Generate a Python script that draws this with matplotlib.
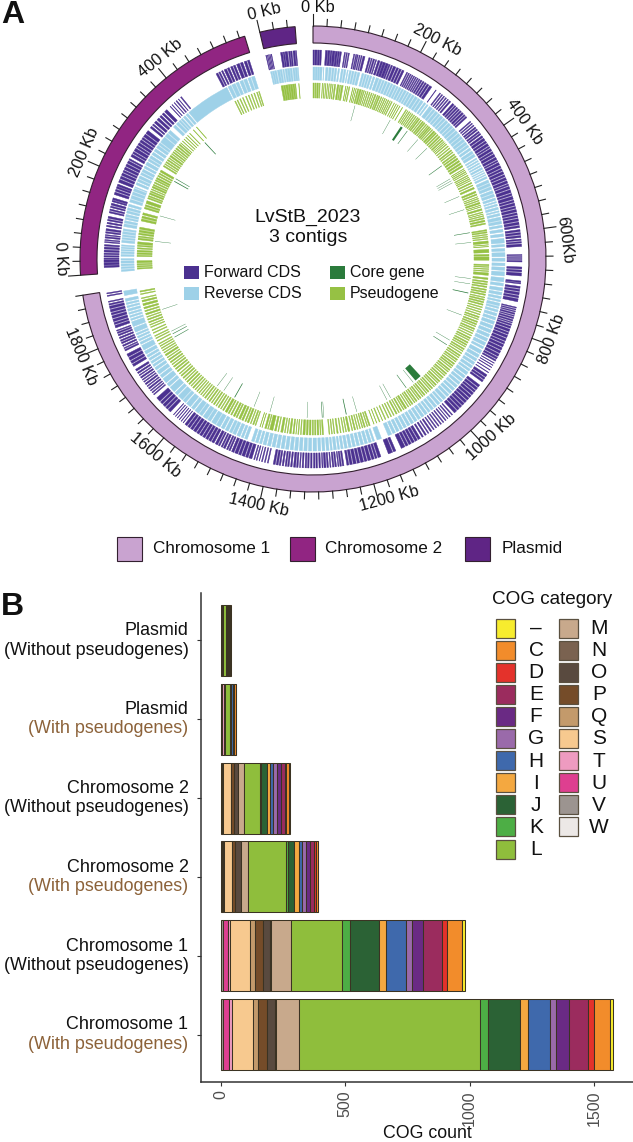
import numpy as np
from matplotlib import pyplot as plt
from matplotlib.patches import Rectangle

plt.rcParams['font.family'] = ['Liberation Sans', 'DejaVu Sans']

# contig layout on the circle (degrees clockwise from top) and length in Kb
contigs = ['Chromosome 1', 'Chromosome 2', 'Plasmid']
contig_start = [0.0, 266.0, 346.8]
contig_len = [1900, 560, 64]
contig_col = ['#C9A3D0', '#912582', '#5F2585']
deg_per_kb = 0.1374

# gene blocks, flat start,end pairs in Kb
fwd1 = [0,3, 4,8, 9,13, 14,17, 25,29, 30,34, 35,38, 39,44, 45,49, 50,53, 54,57, 63,65, 67,69, 71,73,
        82,84, 86,88, 89,91, 93,95, 97,99, 101,105, 113,116, 118,120, 122,125, 127,129, 132,136,
        138,142, 143,148, 149,154, 155,158, 160,163, 165,170, 172,176, 178,182, 184,188,
        194,196, 198,200, 202,204, 206,208, 210,212, 214,216, 218,220, 222,224, 226,229, 231,234, 236,239, 241,245, 247,252,
        262,263, 272,274, 277,279, 282,284, 287,289, 292,294, 297,300, 305,309, 311,314, 316,319, 321,324, 326,329, 331,335, 337,340, 342,345,
        355,357, 360,362, 365,367, 370,373, 375,378, 381,384, 386,389, 392,396, 398,403, 405,409, 411,416, 418,421, 423,428, 430,434,
        436,441, 443,448, 450,453, 455,460, 462,467, 469,473, 475,480, 482,486, 488,493, 495,500, 502,505, 507,512, 514,520, 522,526,
        528,534, 536,540, 542,547, 549,553, 555,560, 562,566, 568,572, 574,579, 581,586, 588,592, 596,600, 602,606, 608,612,
        615,618, 620,623, 625,630, 646,648, 650,652, 654,656, 658,661, 671,675, 677,681, 683,689, 699,702, 703,705,
        710,714, 716,720, 722,727, 729,733, 735,741, 752,754, 756,758, 760,762, 764,767, 769,771, 773,776, 778,781, 783,785, 787,790, 792,796,
        798,803, 805,809, 811,816, 818,823, 825,829, 831,836, 838,843, 845,850, 852,857, 859,863, 865,868, 872,873, 877,878, 882,883, 888,889, 894,895,
        900,905, 907,911, 913,917, 925,930, 932,937, 939,943, 945,950, 952,957, 959,964, 966,971, 973,978, 980,985, 987,992, 994,1000,
        1005,1007, 1011,1013, 1017,1018, 1022,1024, 1028,1030, 1034,1036, 1040,1042, 1046,1048, 1052,1054, 1058,1061, 1065,1067, 1071,1074, 1078,1081,
        1085,1090, 1092,1097, 1099,1104, 1106,1111, 1113,1118, 1120,1128, 1140,1145, 1147,1156, 1172,1178, 1180,1184, 1186,1191, 1193,1199, 1201,1206, 1208,1214, 1216,1221, 1223,1229, 1231,1236, 1238,1242,
        1248,1251, 1253,1256, 1258,1260, 1263,1266, 1268,1271, 1274,1276, 1279,1282, 1284,1288, 1290,1292, 1295,1298, 1301,1304, 1306,1309, 1312,1315, 1318,1321, 1323,1326, 1329,1332, 1335,1337, 1340,1343, 1345,1349, 1352,1355, 1358,1361, 1363,1366, 1369,1372, 1375,1378, 1380,1384, 1386,1390,
        1400,1402, 1406,1408, 1412,1414, 1418,1419, 1423,1425, 1428,1430, 1434,1440, 1442,1447, 1449,1455, 1457,1462, 1464,1470, 1472,1477,
        1480,1483, 1485,1488, 1491,1495, 1497,1500, 1503,1506, 1508,1513, 1516,1521, 1523,1528, 1530,1535, 1537,1542, 1544,1549, 1551,1556, 1558,1564, 1566,1571, 1573,1578, 1580,1585,
        1589,1590, 1594,1595, 1599,1600, 1604,1605, 1609,1610, 1614,1615, 1623,1629, 1631,1636, 1638,1644, 1646,1651, 1653,1662,
        1670,1672, 1675,1677, 1680,1682, 1685,1688, 1691,1693, 1696,1699, 1702,1704, 1707,1709, 1712,1715, 1718,1720, 1723,1726, 1729,1733, 1740,1745, 1747,1752, 1754,1760, 1762,1768,
        1775,1778, 1780,1782, 1785,1788, 1791,1794, 1796,1799, 1802,1805, 1808,1811, 1813,1816, 1818,1820, 1825,1830, 1832,1836, 1838,1843, 1845,1850, 1852,1856, 1858,1863, 1865,1870, 1872,1875, 1878,1880, 1890,1892, 1895,1897]
rev1 = [0,4, 5,9, 10,14, 15,20, 23,24, 28,33, 35,40, 42,46, 48,52, 55,58, 62,66, 68,72, 75,77, 80,84, 86,90, 92,96, 98,103,
        108,112, 114,118, 120,124, 126,130, 133,137, 140,146, 148,153, 155,159, 161,166, 168,173, 175,179, 181,186,
        188,192, 194,199, 201,205, 207,212, 214,218, 220,225, 227,232, 234,240, 242,247, 249,255, 258,262, 265,268, 272,280,
        282,287, 289,295, 297,302, 304,310, 312,317, 319,325, 327,333, 335,340, 342,348, 350,356, 358,364, 366,372, 374,380,
        382,388, 390,395, 398,403, 406,412, 414,420, 424,427, 430,433, 436,439, 442,445, 448,452, 455,457, 460,462, 465,467, 470,474,
        478,484, 486,492, 494,500, 503,509, 511,517, 520,525, 528,531, 534,538, 541,546, 549,552, 555,560, 563,570, 572,578, 581,586, 590,596,
        600,606, 610,620, 623,628, 632,638, 641,650, 653,660, 664,670, 673,680, 683,692, 696,705, 708,714, 718,725, 728,734, 737,742, 745,749,
        752,758, 760,764, 767,772, 775,781, 784,790, 793,800, 803,810, 813,820, 823,830, 833,840, 843,850, 853,858, 862,870, 873,880, 883,889,
        892,898, 901,907, 910,915, 918,925, 928,934, 937,943, 946,952, 955,961, 964,970, 973,979, 982,988, 991,998, 1001,1006, 1009,1015, 1018,1024,
        1027,1033, 1036,1041, 1044,1050, 1053,1059, 1062,1068, 1071,1077, 1080,1086, 1089,1095, 1098,1104, 1107,1113, 1116,1122, 1125,1131, 1134,1142,
        1158,1168, 1174,1178, 1181,1187, 1190,1196, 1199,1205, 1208,1214, 1217,1223, 1226,1232, 1235,1241, 1244,1249, 1252,1256, 1259,1265, 1268,1272,
        1275,1281, 1284,1290, 1293,1299, 1302,1310, 1313,1320, 1323,1330, 1333,1340, 1343,1350, 1353,1360, 1363,1370, 1373,1380, 1383,1390, 1393,1400,
        1403,1410, 1413,1420, 1423,1428, 1431,1437, 1440,1446, 1456,1462, 1465,1470, 1473,1480, 1483,1490, 1492,1498, 1501,1508, 1511,1518, 1521,1530,
        1532,1542, 1545,1552, 1554,1564, 1567,1574, 1576,1586, 1589,1596, 1599,1610, 1613,1620, 1622,1634, 1637,1644, 1647,1660, 1663,1670, 1673,1684,
        1687,1694, 1697,1705, 1708,1714, 1717,1722, 1725,1730, 1733,1738, 1741,1746, 1749,1756, 1759,1770, 1773,1778, 1781,1785, 1788,1792, 1795,1799,
        1802,1812, 1815,1826, 1829,1833, 1836,1840, 1843,1847, 1850,1855, 1858,1862, 1865,1869, 1872,1878, 1885,1895]
pse1 = [0,3, 5,7, 9,13, 15,17, 22,23, 26,27, 30,31, 34,35, 38,39, 42,44, 47,48, 51,54, 58,62, 64,66, 68,72, 78,79, 82,83, 86,88,
        95,96, 99,100, 103,104, 107,110, 112,116, 118,120, 122,124, 127,128, 131,133, 136,138, 141,143, 146,147, 150,153, 156,158, 160,163, 166,168,
        171,172, 175,177, 180,181, 184,186, 189,190, 193,195, 200,201, 205,206, 210,211, 215,216, 222,223, 232,234, 237,238, 241,243, 246,247, 250,252,
        255,257, 260,262, 265,267, 269,272, 275,277, 280,283, 285,288, 291,293, 296,298, 300,303, 305,307, 310,312, 315,319, 321,324, 327,330, 333,336, 339,341, 344,347,
        350,351, 354,355, 358,360, 364,366, 370,372, 376,379, 382,384, 388,391, 394,397, 400,404, 407,411, 414,418, 421,425, 430,431, 434,435, 438,440, 443,444,
        448,450, 453,454, 457,459, 462,463, 467,470, 474,476, 480,484, 490,494, 497,500, 504,505, 508,510, 513,515, 518,522, 525,526, 529,530, 534,538,
        542,544, 547,548, 551,553, 556,559, 562,566, 569,572, 585,588, 590,593, 596,598, 601,603, 606,608, 612,618, 621,622, 625,626, 632,640,
        644,648, 650,658, 668,671, 673,675, 678,680, 683,685, 688,694, 700,704, 708,711, 714,717, 720,723, 727,730, 733,736, 739,742, 746,748, 751,754,
        757,760, 763,766, 770,772, 776,778, 782,784, 788,790, 794,797, 800,802, 806,809, 812,815, 818,820, 824,827, 830,832, 836,838, 842,844, 848,851,
        854,856, 860,863, 866,869, 872,874, 878,881, 884,886, 890,892, 896,899, 902,904, 908,911, 914,916, 920,923, 926,929, 932,934, 938,941, 944,946,
        950,953, 956,958, 962,965, 968,970, 974,977, 980,982, 986,989, 992,994, 998,1001, 1004,1006, 1010,1013, 1016,1018, 1022,1025, 1028,1030, 1034,1037,
        1040,1042, 1046,1049, 1052,1054, 1058,1061, 1064,1066, 1070,1072, 1076,1080, 1083,1085, 1089,1092, 1096,1098, 1102,1105, 1110,1112, 1117,1119, 1124,1126, 1132,1134, 1140,1141, 1147,1149,
        1155,1156, 1162,1163, 1172,1175, 1178,1180, 1184,1187, 1190,1192, 1196,1198, 1202,1204, 1208,1211, 1215,1217, 1222,1226, 1230,1232, 1236,1238, 1243,1245, 1250,1253, 1258,1260,
        1264,1266, 1270,1272, 1285,1288, 1291,1293, 1296,1300, 1303,1306, 1309,1312, 1315,1319, 1322,1326, 1329,1334, 1338,1340, 1344,1346, 1350,1351, 1355,1358, 1362,1366, 1370,1372, 1376,1378, 1382,1387, 1392,1394, 1398,1402, 1406,1414, 1417,1419,
        1422,1426, 1432,1433, 1437,1438, 1448,1450, 1453,1456, 1460,1462, 1466,1470, 1473,1476, 1480,1484, 1487,1492, 1496,1499, 1502,1506, 1510,1513, 1517,1520, 1523,1528, 1532,1535, 1539,1541, 1545,1548, 1552,1554,
        1558,1561, 1565,1567, 1571,1574, 1578,1580, 1584,1587, 1591,1593, 1597,1599, 1603,1605, 1609,1611, 1615,1617, 1621,1624, 1628,1630, 1634,1637, 1641,1644, 1648,1650, 1654,1657, 1661,1664, 1668,1670, 1675,1678,
        1682,1685, 1689,1692, 1696,1698, 1702,1705, 1709,1712, 1716,1718, 1722,1726, 1730,1732, 1736,1738, 1742,1744, 1748,1750, 1754,1756, 1762,1764, 1769,1771, 1775,1777, 1783,1785, 1790,1792, 1798,1800,
        1804,1806, 1810,1813, 1817,1820, 1824,1826, 1830,1834, 1838,1841, 1845,1849, 1853,1858, 1862,1866, 1870,1872, 1880,1882, 1886,1889]
core1 = [111,1, 211,1, 244,6, 264,1.5, 300,1, 333,1, 393,1.5, 434,1, 440,1, 446,1, 486,1, 523,1, 585,1.5, 611,1, 706,1, 720,1, 744,2,
         805,1, 878,1, 892,1.5, 1000,18, 1025,1, 1048,1.5, 1097,1, 1108,1, 1193,1, 1221,2, 1281,1, 1285,1.5, 1325,1, 1424,1, 1468,1, 1524,2,
         1558,1, 1579,1, 1750,1.5, 1760,1.5, 1768,1, 1830,1]

fwd2 = [12,16, 17,22, 23,28, 29,31, 33,36, 38,41, 43,47, 49,53, 55,58, 62,64, 66,68, 71,74, 76,78, 81,84, 86,90, 94,97, 100,103, 106,109, 111,115,
        122,125, 127,130, 133,136, 138,142, 145,148, 149,153, 160,165, 167,171, 173,177, 178,182, 186,192, 194,199, 201,206, 208,212, 214,219, 221,226, 228,233, 235,238,
        243,248, 250,254, 256,262, 264,268, 270,275, 277,282, 284,288, 290,296, 298,305, 312,316, 319,322, 325,330, 333,338, 341,345, 348,352, 355,361,
        370,371, 375,376, 381,382, 386,388, 392,393, 398,400,
        483,487, 489,492, 495,498, 501,506, 508,512, 515,519, 521,525, 528,534, 536,541, 544,549, 551,555]
rev2 = [2,6, 8,12, 14,18, 20,25, 27,30, 35,39, 41,45, 47,50, 52,55, 57,60, 65,70, 72,76, 78,82, 84,89, 91,95, 100,106, 108,113, 116,120, 122,127, 130,135, 137,142, 145,150,
        155,161, 163,170, 172,178, 180,186, 188,190, 195,200, 203,208, 210,216, 219,224, 226,232, 235,240, 243,250, 253,258, 260,266, 269,275, 278,284, 287,293, 295,300,
        302,316, 318,326, 328,335, 345,351, 354,360, 362,366, 368,372, 375,380, 383,388, 391,490, 493,500, 502,510, 512,518, 521,528, 530,537, 540,546, 548,555]
pse2 = [5,8, 10,13, 15,18, 20,25, 35,38, 40,44, 46,50, 53,56, 59,62, 64,70, 75,79, 81,84, 87,91, 93,98, 100,105, 120,125, 127,132, 135,140, 150,154, 156,160, 163,170,
        175,178, 180,183, 186,190, 192,195, 198,200, 203,207, 209,212, 215,218, 221,224, 226,230, 233,236, 239,242, 245,250,
        260,263, 266,268, 271,274, 277,280, 283,285, 288,292, 295,297, 300,303, 306,308, 311,314, 317,320, 323,326, 329,330, 335,336, 341,342, 347,348, 353,354, 360,361, 372,373, 382,383,
        492,494, 498,500, 505,507, 512,514, 520,522, 527,529, 534,536, 541,543, 548,550, 553,555]
core2 = [75,1, 143,1, 241,2, 249,1.5, 371,2]

fwd3 = [1,2.5, 4,5, 6.5,7.5, 9,10, 11.5,13, 31,35, 36,39, 40,45, 47,50, 51,54, 56,60, 61,63]
rev3 = [3,6, 7,11, 12,16, 18,23, 24,28, 30,33, 35,39, 40,45, 46,50, 52,56, 57,61, 62,64]
pse3 = [20,25, 26,30, 31,36, 37,41, 42,47, 48,52, 53,55, 62,63]

# inner rings
track_names = ['Forward CDS', 'Reverse CDS', 'Pseudogene', 'Core gene']
track_col = ['#4B3190', '#9ED1E8', '#96C144', '#2B7B3C']

# panel B, stacked left to right
cog_stack = ['W', 'V', 'U', 'T', 'S', 'Q', 'P', 'O', 'N', 'M', 'L', 'K', 'J', 'I', 'H', 'G', 'F', 'E', 'D', 'C', '-']
cog_col = {'-': '#F7EC2E', 'C': '#F28C2B', 'D': '#E4322B', 'E': '#9B2C5E', 'F': '#6A2A84', 'G': '#9A6AAA',
           'H': '#3F69AC', 'I': '#F4A840', 'J': '#2B6235', 'K': '#4DAE45', 'L': '#8FBE3C', 'M': '#C8A98C',
           'N': '#7A6250', 'O': '#594A3F', 'P': '#754C29', 'Q': '#C39A6B', 'S': '#F7C98F', 'T': '#EE9BC0',
           'U': '#DE3F90', 'V': '#9C9490', 'W': '#ECE8E6'}
legend_col1 = ['-', 'C', 'D', 'E', 'F', 'G', 'H', 'I', 'J', 'K', 'L']
legend_col2 = ['M', 'N', 'O', 'P', 'Q', 'S', 'T', 'U', 'V', 'W']

row_names = ['Chromosome 1', 'Chromosome 1', 'Chromosome 2', 'Chromosome 2', 'Plasmid', 'Plasmid']
row_sub = ['(With pseudogenes)', '(Without pseudogenes)', '(With pseudogenes)', '(Without pseudogenes)',
           '(With pseudogenes)', '(Without pseudogenes)']
#        W  V   U   T   S   Q   P   O  N   M    L   K    J   I   H   G   F   E   D   C   -
chr1_with = [0, 9, 24, 11, 86, 19, 37, 33, 3, 90, 730, 33, 127, 31, 88, 28, 51, 76, 25, 64, 12]
chr1_wo = [0, 9, 21, 8, 80, 17, 33, 29, 3, 82, 205, 32, 118, 27, 80, 23, 44, 78, 19, 60, 12]
chr2_with = [0, 4, 4, 3, 32, 3, 12, 24, 0, 27, 153, 8, 24, 18, 13, 15, 18, 16, 7, 8, 2]
chr2_wo = [0, 4, 4, 0, 31, 3, 12, 15, 0, 23, 63, 5, 23, 15, 13, 15, 15, 15, 7, 12, 1]
pl_with = [0, 2, 2, 7, 0, 0, 0, 5, 0, 0, 19, 0, 4, 0, 8, 0, 2, 2, 2, 6, 2]
pl_wo = [0, 3, 0, 0, 0, 0, 0, 4, 2, 1, 10, 0, 4, 0, 4, 0, 3, 3, 2, 3, 0]
rows = [chr1_with, chr1_wo, chr2_with, chr2_wo, pl_with, pl_wo]

W, H = 633, 1142
fig = plt.figure(figsize=(W / 100, H / 100), dpi=100)


def px_axes(x0, y0, x1, y1, **kw):
    return fig.add_axes([x0 / W, 1 - y1 / H, (x1 - x0) / W, (y1 - y0) / H], **kw)


cx, cy, rmax = 313, 259, 250
pol = px_axes(cx - rmax, cy - rmax, cx + rmax, cy + rmax, projection='polar')
pol.set_theta_zero_location('N')
pol.set_theta_direction(-1)
pol.set_ylim(0, rmax)
pol.axis('off')


def draw_track(start, pairs, r0, r1, col, lw):
    a = np.array(pairs, dtype=float).reshape(-1, 2)
    th = np.radians(start + deg_per_kb * a.mean(axis=1))
    wd = np.radians(deg_per_kb * (a[:, 1] - a[:, 0]))
    pol.bar(th, r1 - r0, width=wd, bottom=r0, color=col, edgecolor=col, linewidth=lw)


tracks = [(fwd1, rev1, pse1), (fwd2, rev2, pse2), (fwd3, rev3, pse3)]
for i, (f, r, p) in enumerate(tracks):
    draw_track(contig_start[i], f, 194, 209, track_col[0], 0.3)
    draw_track(contig_start[i], r, 179, 192, track_col[1], 0.3)
    draw_track(contig_start[i], p, 161, 176, track_col[2], 0.3)

# core genes are stored as start,width
for start, pairs in [(contig_start[0], core1), (contig_start[1], core2)]:
    a = np.array(pairs, dtype=float).reshape(-1, 2)
    th = np.radians(start + deg_per_kb * (a[:, 0] + a[:, 1] / 2))
    pol.bar(th, 16, width=np.radians(deg_per_kb * a[:, 1]), bottom=143, color=track_col[3], linewidth=0)

tick_labels = {0: ['0 Kb', '200 Kb', '400 Kb', '600Kb', '800 Kb', '1000 Kb', '1200 Kb', '1400 Kb', '1600 Kb', '1800 Kb'],
               1: ['0 Kb', '200 Kb', '400 Kb'],
               2: ['0 Kb']}
# labels do not sit exactly over their ticks in the reference
label_shift = {0: [1, 2, 2, 3.3, -1.5, -2.4, -2.6, 0, -1, 0], 1: [4, 1.5, 1.8], 2: [2]}

for i in range(3):
    s = contig_start[i]
    wid = deg_per_kb * contig_len[i]
    pol.bar(np.radians(s + wid / 2), 17, width=np.radians(wid), bottom=216,
            color=contig_col[i], edgecolor='#33202f', linewidth=0.8)
    for kb in np.arange(0, contig_len[i] + 1, 25):
        major = kb % 200 == 0
        t = np.radians(s + deg_per_kb * kb)
        pol.plot([t, t], [233, 245 if major else 240], color='#222222', lw=0.8, clip_on=False)
    for j, lab in enumerate(tick_labels[i]):
        deg = s + deg_per_kb * 200 * j
        rot = -deg if deg < 90 else (180 - deg if deg < 270 else 360 - deg)
        pol.text(np.radians(deg + label_shift[i][j]), 252, lab, rotation=rot, rotation_mode='anchor',
                 ha='center', va='center', fontsize=11.8, color='#111111', clip_on=False)

# panel B
ax = px_axes(201, 593, 633, 1082)
left = np.zeros(len(rows))
vals = np.array(rows, dtype=float)
ypos = np.arange(len(rows))
for k, cog in enumerate(cog_stack):
    keep = vals[:, k] > 0
    ax.barh(ypos[keep], vals[keep, k], left=left[keep], height=0.9, color=cog_col[cog],
            edgecolor='#3b3323', linewidth=0.75)
    left += vals[:, k]
ax.set_xlim(-80.4, 1656.6)
ax.set_ylim(-0.6, 5.6)
ax.spines['top'].set_visible(False)
ax.spines['right'].set_visible(False)
ax.spines['left'].set_color('#333333')
ax.spines['bottom'].set_color('#333333')
ax.spines['bottom'].set_linewidth(1.1)
ax.spines['left'].set_linewidth(1.1)
ax.set_xticks([0, 500, 1000, 1500])
ax.set_xticklabels(['0', '500', '1000', '1500'], rotation=90, fontsize=11.5, color='#4d4d4d')
ax.tick_params(axis='x', length=3, width=0.8, color='#333333', pad=3)
ax.tick_params(axis='y', length=3, width=0.8, color='#333333')
ax.set_yticks(ypos)
ax.set_yticklabels([])
ax.set_xlabel('COG count', fontsize=12.8, color='#111111')
ax.xaxis.set_label_coords((427 - 201) / 432, -(1134 - 1082) / 489)
ax.xaxis.label.set_verticalalignment('center')
for y, nm, sub in zip(ypos, row_names, row_sub):
    subcol = '#8C6239' if 'With ' in sub else '#111111'
    ax.annotate(nm, (0, y), xycoords=ax.get_yaxis_transform(), xytext=(-9, 7), textcoords='offset points',
                ha='right', va='center', fontsize=12.9, color='#111111')
    ax.annotate(sub, (0, y), xycoords=ax.get_yaxis_transform(), xytext=(-9, -7), textcoords='offset points',
                ha='right', va='center', fontsize=12.9, color=subcol)

# overlay in pixel coordinates for the free text and the legends
ov = px_axes(0, 0, W, H)
ov.set_xlim(0, W)
ov.set_ylim(H, 0)
ov.axis('off')
ov.patch.set_alpha(0)


def swatch(x, y, w, h, col, edge='none', lw=0.0):
    ov.add_patch(Rectangle((x, y), w, h, facecolor=col, edgecolor=edge, linewidth=lw))


ov.text(1, 15, 'A', fontsize=23, fontweight='bold', va='center', color='#111111')
ov.text(1, 607, 'B', fontsize=23, fontweight='bold', va='center', color='#111111')
ov.text(308, 217, 'LvStB_2023', fontsize=14, ha='center', va='center', color='#111111')
ov.text(308, 238, '3 contigs', fontsize=14, ha='center', va='center', color='#111111')

for name, col, x, y in [('Forward CDS', track_col[0], 184, 266), ('Reverse CDS', track_col[1], 184, 287),
                        ('Core gene', track_col[3], 330, 266), ('Pseudogene', track_col[2], 330, 287)]:
    swatch(x, y, 14.5, 13, col)
    ov.text(x + 19.5, y + 6.5, name, fontsize=11.5, va='center', color='#111111')

for name, col, x, tx in zip(contigs, contig_col, [117, 290, 465], [153, 325, 502]):
    swatch(x, 537, 25, 24, col, '#33202f', 0.8)
    ov.text(tx, 548.5, name, fontsize=12.3, va='center', color='#111111')

ov.text(552, 599, 'COG category', fontsize=13.6, ha='center', va='center', color='#111111')
for x, tx, col_names in [(496, 536, legend_col1), (559, 599, legend_col2)]:
    for j, cog in enumerate(col_names):
        y = 618.5 + 22.1 * j
        swatch(x, y, 19, 19, cog_col[cog], '#5a5040', 0.9)
        lab = '\u2013' if cog == '-' else cog
        ov.text(tx, y + 10, lab, fontsize=15, ha='center', va='center', color='#111111')

fig.savefig('out.png', dpi=100)
